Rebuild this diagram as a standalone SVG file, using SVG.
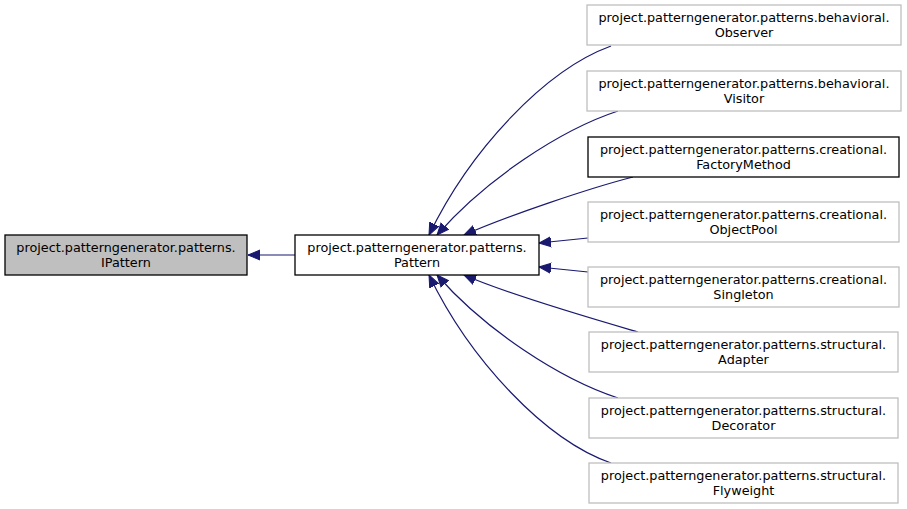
<svg xmlns="http://www.w3.org/2000/svg" width="907" height="509" viewBox="0 0 907 509">
<style>
text{font-family:"DejaVu Sans",sans-serif;font-size:12.8px;fill:#000;text-anchor:middle}
.n rect{fill:#fff;stroke:#bfbfbf;stroke-width:1.3}
.n rect.k{stroke:#000}
.n rect.g{fill:#bfbfbf;stroke:#000}
.e path{fill:none;stroke:#191970;stroke-width:1.2}
</style>
<defs>
<marker id="a" markerUnits="userSpaceOnUse" markerWidth="14" markerHeight="12" refX="12" refY="5" orient="auto" viewBox="0 0 14 10">
<path d="M0,0 L12,5 L0,10 Z" fill="#191970" stroke="#191970"/>
</marker>
</defs>
<rect width="907" height="509" fill="#fff"/>
<g class="e">
<path d="M295,255 L248,255" marker-end="url(#a)"/>
<path d="M611,46 C545,70 470,150 429,235" marker-end="url(#a)"/>
<path d="M618,111 C560,130 485,180 437,235" marker-end="url(#a)"/>
<path d="M633,177 C590,188 510,215 464,235" marker-end="url(#a)"/>
<path d="M588,238 L539,243" marker-end="url(#a)"/>
<path d="M588,272 L539,267" marker-end="url(#a)"/>
<path d="M638,332 C590,318 510,295 464,275" marker-end="url(#a)"/>
<path d="M618,398 C560,379 485,330 437,275" marker-end="url(#a)"/>
<path d="M611,463 C545,440 470,360 429,275" marker-end="url(#a)"/>
</g>
<g id="IPattern" class="n"><rect class="g" x="5" y="235" width="242" height="40"/><text x="126" y="251.5">project.patterngenerator.patterns.</text><text x="126" y="266.5">IPattern</text></g>
<g id="Pattern" class="n"><rect class="k" x="295" y="235" width="244" height="40"/><text x="417" y="251.5">project.patterngenerator.patterns.</text><text x="417" y="266.5">Pattern</text></g>
<g id="Observer" class="n"><rect x="587" y="5" width="314" height="40"/><text x="744" y="21.5">project.patterngenerator.patterns.behavioral.</text><text x="744" y="36.5">Observer</text></g>
<g id="Visitor" class="n"><rect x="587" y="71" width="314" height="40"/><text x="744" y="87.5">project.patterngenerator.patterns.behavioral.</text><text x="744" y="102.5">Visitor</text></g>
<g id="FactoryMethod" class="n"><rect class="k" x="588" y="137" width="311" height="40"/><text x="743.5" y="153.5">project.patterngenerator.patterns.creational.</text><text x="743.5" y="168.5">FactoryMethod</text></g>
<g id="ObjectPool" class="n"><rect x="588" y="202" width="311" height="40"/><text x="743.5" y="218.5">project.patterngenerator.patterns.creational.</text><text x="743.5" y="233.5">ObjectPool</text></g>
<g id="Singleton" class="n"><rect x="588" y="267" width="311" height="40"/><text x="743.5" y="283.5">project.patterngenerator.patterns.creational.</text><text x="743.5" y="298.5">Singleton</text></g>
<g id="Adapter" class="n"><rect x="589" y="332" width="309" height="40"/><text x="743.5" y="348.5">project.patterngenerator.patterns.structural.</text><text x="743.5" y="363.5">Adapter</text></g>
<g id="Decorator" class="n"><rect x="589" y="398" width="309" height="40"/><text x="743.5" y="414.5">project.patterngenerator.patterns.structural.</text><text x="743.5" y="429.5">Decorator</text></g>
<g id="Flyweight" class="n"><rect x="589" y="463" width="309" height="40"/><text x="743.5" y="479.5">project.patterngenerator.patterns.structural.</text><text x="743.5" y="494.5">Flyweight</text></g>
</svg>
